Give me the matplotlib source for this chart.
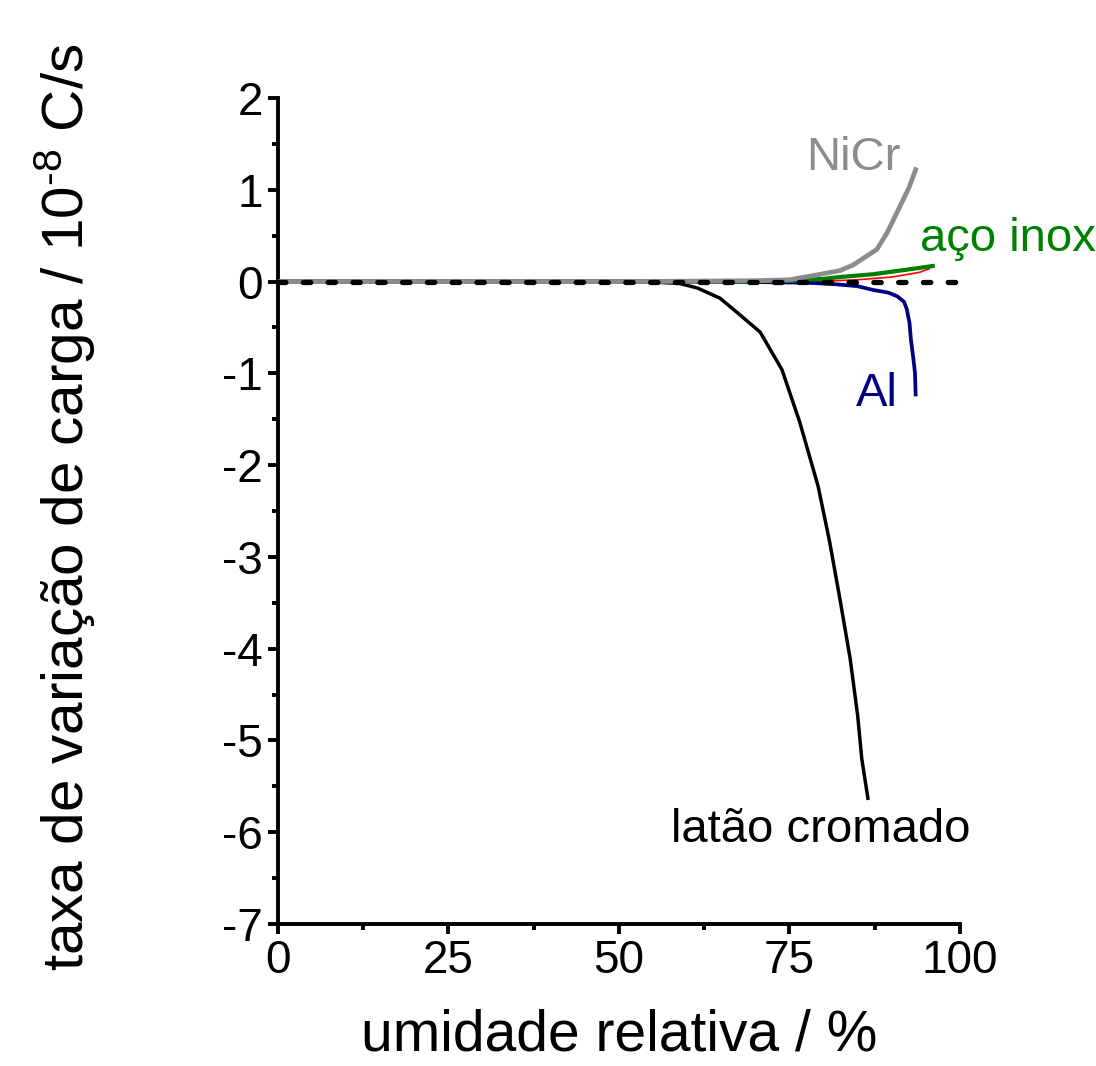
import matplotlib
matplotlib.use("Agg")
import matplotlib.pyplot as plt
from matplotlib.ticker import MultipleLocator, FixedLocator

plt.rcParams['font.family'] = ['Liberation Sans', 'DejaVu Sans']
plt.rcParams['mathtext.fontset'] = 'custom'
plt.rcParams['mathtext.rm'] = 'Liberation Sans'
plt.rcParams['mathtext.it'] = 'Liberation Sans'

# ---- data ----
nicr_x = [0, 10, 20, 30, 40, 50, 60, 70, 75, 79.5, 82.4, 84.3, 87.8, 89.3, 91.2, 92.5, 93.5]
nicr_y = [0, 0, 0, 0, 0, 0, 0.005, 0.01, 0.02, 0.08, 0.12, 0.18, 0.35, 0.53, 0.82, 1.02, 1.22]

inox_x = [0, 10, 20, 30, 40, 50, 60, 70, 75, 80, 82.4, 87.2, 92.2, 96.0]
inox_y = [0, 0, 0, 0, 0, 0, 0, 0.005, 0.01, 0.03, 0.05, 0.08, 0.13, 0.17]

red_x = [0, 10, 20, 30, 40, 50, 60, 70, 80, 85, 90, 94, 95.5]
red_y = [0, 0, 0, 0, 0, 0, 0, 0, 0.005, 0.02, 0.05, 0.1, 0.14]

al_x = [0, 10, 20, 30, 40, 50, 60, 70, 75, 78.5, 82, 85, 87.2, 89.5, 90.8, 91.8, 92.2, 92.6, 92.8, 93.1, 93.4, 93.5]
al_y = [0, 0, 0, 0, 0, 0, 0, -0.005, -0.01, -0.015, -0.03, -0.05, -0.09, -0.12, -0.16, -0.22, -0.3, -0.45, -0.63, -0.8, -0.99, -1.23]

latao_x = [0, 10, 20, 30, 40, 50, 55, 58.9, 61.5, 64.8, 67.7, 70.7, 73.9, 76.5, 79.2, 80.9, 82.4, 83.9, 85.0, 85.6, 86.5]
latao_y = [0, 0, 0, 0, 0, 0, -0.005, -0.02, -0.07, -0.18, -0.36, -0.55, -0.96, -1.53, -2.23, -2.84, -3.46, -4.11, -4.73, -5.2, -5.63]

zero_x = [0, 100]
zero_y = [0, 0]

x_ticks = [0, 25, 50, 75, 100]
y_ticks = [2, 1, 0, -1, -2, -3, -4, -5, -6, -7]

labels = ["NiCr", "aço inox", "Al", "latão cromado"]
label_pos = [(77.4, 1.35), (94.2, 0.46), (84.7, -1.23), (57.6, -5.98)]
label_colors = ["#8c8c8c", "#008000", "#000080", "black"]

# ---- figure ----
fig = plt.figure(figsize=(10.96, 10.66), dpi=100)
ax = fig.add_axes([0.2536, 0.1332, 0.6223, 0.7748])

ax.plot(red_x, red_y, color="red", lw=1.2, zorder=2)
ax.plot(latao_x, latao_y, color="black", lw=2.5, zorder=3)
ax.plot(al_x, al_y, color="#000080", lw=2.7, zorder=3)
ax.plot(inox_x, inox_y, color="#008000", lw=3.0, zorder=3)
ax.plot(nicr_x, nicr_y, color="#8c8c8c", lw=3.4, zorder=4)
ax.plot(zero_x, zero_y, color="black", lw=3.8, linestyle=(0, (1.4, 3.3)),
        dash_capstyle="round", zorder=5, clip_on=False)

for t, (lx, ly), c in zip(labels, label_pos, label_colors):
    ax.text(lx, ly, t, color=c, fontsize=34, ha="left", va="center", clip_on=False)

ax.set_xlim(0, 100)
ax.set_ylim(-7, 2)
ax.xaxis.set_major_locator(FixedLocator(x_ticks))
ax.yaxis.set_major_locator(FixedLocator(y_ticks))
ax.xaxis.set_minor_locator(MultipleLocator(12.5))
ax.yaxis.set_minor_locator(MultipleLocator(0.5))
ax.set_xticklabels([str(v) for v in x_ticks])
ax.set_yticklabels([str(v) for v in y_ticks])

for s in ["top", "right"]:
    ax.spines[s].set_visible(False)
for s in ["left", "bottom"]:
    ax.spines[s].set_linewidth(2.8)

ax.tick_params(which="major", direction="out", length=7, width=2.8, labelsize=33, pad=4)
ax.tick_params(which="minor", direction="out", length=4, width=2.8)

ax.set_xlabel("umidade relativa / %", fontsize=41, va="top")
ax.xaxis.set_label_coords(0.501, -0.102)
ax.set_ylabel(r"taxa de variação de carga / 10$^{\text{-8}}$ C/s", fontsize=42)
ax.yaxis.set_label_coords(-0.264, 0.505)

fig.savefig("out.png", dpi=100)
